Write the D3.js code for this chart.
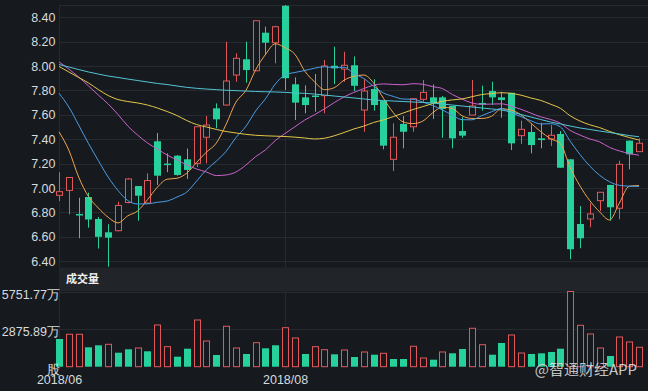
<!DOCTYPE html>
<html><head><meta charset="utf-8">
<script src="https://cdn.jsdelivr.net/npm/d3@7/dist/d3.min.js"></script>
<style>html,body{margin:0;padding:0;background:#161a1f;}svg{display:block;}</style>
</head><body><svg id="c" width="648" height="391"></svg>
<script>
const open  = [6.94,6.98,6.787,6.926,6.746,6.637,6.65,6.881,7.016,6.877,7.383,7.20,7.265,7.235,7.202,7.416,7.653,7.68,7.926,8.055,7.961,8.273,8.191,8.494,7.85,7.743,7.758,7.757,8.002,7.975,8.006,7.639,7.811,7.713,7.235,7.525,7.502,7.727,7.743,7.743,7.672,7.467,7.598,7.697,7.795,7.743,7.781,7.429,7.459,7.407,7.402,7.443,7.235,6.705,6.746,6.896,7.025,6.834,7.388,7.298];
const high  = [7.129,7.09,6.92,6.962,6.762,6.703,6.888,7.082,7.016,7.12,7.451,7.284,7.27,7.324,7.502,7.59,7.694,8.199,8.104,8.199,8.371,8.322,8.33,8.50,7.907,7.842,7.934,8.049,8.158,8.117,8.078,7.891,7.891,7.713,7.53,7.59,7.732,7.885,7.85,7.754,7.672,7.58,7.885,7.839,7.871,7.789,7.781,7.552,7.522,7.535,7.516,7.467,7.235,6.852,6.875,6.965,7.025,7.224,7.388,7.407];
const low   = [6.893,6.784,6.588,6.675,6.504,6.355,6.645,6.874,6.732,6.869,7.025,7.13,7.10,7.074,7.172,7.202,7.489,7.675,7.871,7.863,7.958,8.09,8.022,7.803,7.557,7.612,7.625,7.612,7.852,7.871,7.795,7.461,7.634,7.317,7.139,7.325,7.461,7.707,7.566,7.412,7.325,7.412,7.598,7.634,7.68,7.576,7.311,7.361,7.284,7.325,7.344,7.166,6.416,6.506,6.678,6.811,6.732,6.744,7.153,7.298];
const close = [6.97,7.086,6.779,6.742,6.60,6.593,6.857,7.074,6.937,7.061,7.101,7.193,7.107,7.148,7.502,7.516,7.563,7.877,8.063,7.967,8.371,8.191,8.322,7.90,7.70,7.68,7.754,8.0,7.981,8.006,7.838,7.795,7.68,7.347,7.416,7.461,7.732,7.784,7.694,7.648,7.407,7.429,7.672,7.689,7.743,7.721,7.366,7.481,7.352,7.393,7.432,7.166,6.498,6.588,6.787,6.965,6.842,7.194,7.276,7.367];

const ma5  = [7.46,7.31,7.09,6.93,6.836,6.760,6.714,6.772,6.812,6.904,7.006,7.072,7.080,7.122,7.210,7.294,7.368,7.522,7.704,7.798,7.968,8.094,8.182,8.150,8.096,7.958,7.870,7.806,7.822,7.884,7.916,7.926,7.862,7.736,7.618,7.542,7.528,7.548,7.616,7.662,7.652,7.592,7.570,7.570,7.588,7.650,7.638,7.600,7.532,7.462,7.404,7.364,7.168,7.016,6.896,6.804,6.738,6.876,7.014,7.02];
const ma10 = [7.776,7.664,7.516,7.365,7.225,7.09,6.98,6.897,6.869,6.870,6.883,6.893,6.926,6.967,7.057,7.150,7.220,7.301,7.413,7.504,7.631,7.731,7.852,7.927,7.947,7.963,7.982,7.994,7.986,7.990,7.937,7.898,7.834,7.779,7.751,7.729,7.727,7.705,7.676,7.640,7.597,7.560,7.559,7.593,7.625,7.651,7.615,7.585,7.551,7.525,7.527,7.501,7.384,7.274,7.179,7.104,7.051,7.022,7.015,7.013];
const ma20 = [8.033,7.975,7.91,7.836,7.762,7.689,7.603,7.508,7.434,7.369,7.32,7.27,7.23,7.189,7.156,7.131,7.102,7.107,7.131,7.187,7.257,7.312,7.389,7.447,7.502,7.557,7.601,7.648,7.700,7.747,7.784,7.815,7.843,7.853,7.849,7.846,7.855,7.850,7.831,7.815,7.767,7.729,7.697,7.686,7.688,7.690,7.671,7.645,7.614,7.583,7.562,7.531,7.472,7.434,7.402,7.378,7.333,7.304,7.283,7.269];
const ma30 = [7.996,7.951,7.906,7.861,7.807,7.758,7.725,7.709,7.697,7.68,7.656,7.627,7.594,7.553,7.52,7.50,7.48,7.463,7.451,7.44,7.432,7.428,7.425,7.422,7.417,7.41,7.402,7.408,7.428,7.455,7.484,7.507,7.537,7.558,7.585,7.614,7.643,7.667,7.692,7.711,7.722,7.730,7.748,7.766,7.774,7.781,7.775,7.761,7.738,7.718,7.687,7.653,7.592,7.549,7.518,7.495,7.464,7.437,7.414,7.393];
const ma60 = [8.012,7.992,7.971,7.951,7.934,7.918,7.906,7.893,7.881,7.869,7.857,7.848,7.836,7.825,7.817,7.811,7.806,7.801,7.798,7.795,7.791,7.789,7.787,7.784,7.779,7.776,7.770,7.762,7.754,7.746,7.738,7.730,7.721,7.717,7.713,7.709,7.705,7.701,7.697,7.689,7.680,7.672,7.664,7.656,7.648,7.639,7.623,7.602,7.582,7.561,7.541,7.525,7.508,7.492,7.480,7.467,7.455,7.443,7.430,7.420];

const volume = [2119,2479,2479,1484,1637,1714,1071,1331,1431,1178,3190,1530,765,1377,3573,1966,895,3091,1431,972,1836,1408,1637,2984,2196,972,1530,1300,949,1278,742,1125,918,1025,589,589,1561,666,536,1125,1025,1354,2938,1683,918,1813,2425,1048,972,1025,1125,1377,5751.77,3167,2502,1431,819,2272,1890,1484];
const volumeUp = [0,1,1,0,0,1,0,0,1,0,1,1,0,0,1,1,0,1,1,0,1,0,0,1,1,0,1,1,0,1,0,1,0,1,0,0,1,1,0,1,0,0,1,1,0,0,1,1,0,0,0,0,1,1,1,1,0,1,1,1];

const priceTicks = [8.40,8.20,8.00,7.80,7.60,7.40,7.20,7.00,6.80,6.60,6.40];
const volTicks = [5751.77,2875.89,0];
const volTickLabels = ["5751.77万","2875.89万","股"];
const dateTickIndex = [0,23];
const dateTickLabels = ["2018/06","2018/08"];
const panelTitle = "成交量";
const watermark = "@智通财经APP";

const RED = "#e0585a", GREEN = "#27d19b", BG = "#161a1f", GRID = "#252a31", TXT = "#d8dadc";
const maColors = ["#f0a54e","#4b9de6","#cc62cc","#e5c64a","#52c4d4"];
const maSeries = [ma5, ma10, ma20, ma30, ma60];

const svg = d3.select("#c");
const L = 59, R = 648, PT = 5, PB = 267.3, VT = 291.5, VB = 366.7;
const n = close.length;
const x = d3.scalePoint().domain(d3.range(n)).range([59, 639]);
const y = d3.scaleLinear().domain([6.35, 8.5]).range([PB, PT]);
const yv = d3.scaleLinear().domain([0, 5751.77]).range([VB, VT]);
const font = "'Liberation Sans', Arial, sans-serif";
const cjk = "'Noto Sans CJK SC', 'Noto Sans', sans-serif";

svg.append("rect").attr("width",648).attr("height",391).attr("fill",BG);

// price grid
const g = svg.append("g");
g.append("line").attr("x1",L).attr("x2",R).attr("y1",PT+0.5).attr("y2",PT+0.5).attr("stroke",GRID);
g.selectAll("line.h").data(priceTicks).join("line").attr("class","h")
  .attr("x1",L).attr("x2",R).attr("y1",d=>Math.round(y(d))+0.5).attr("y2",d=>Math.round(y(d))+0.5).attr("stroke",GRID);
dateTickIndex.forEach(i=>{
  const xx = Math.round(x(i))+0.5;
  g.append("line").attr("x1",xx).attr("x2",xx).attr("y1",PT).attr("y2",PB).attr("stroke",GRID);
  g.append("line").attr("x1",xx).attr("x2",xx).attr("y1",VT).attr("y2",VB+3).attr("stroke",GRID);
});
// volume grid
g.selectAll("line.v").data(volTicks.slice(0,2)).join("line").attr("class","v")
  .attr("x1",L).attr("x2",R).attr("y1",d=>Math.round(yv(d))+0.5).attr("y2",d=>Math.round(yv(d))+0.5).attr("stroke",GRID);

// price labels
svg.append("g").selectAll("text").data(priceTicks).join("text")
  .attr("x",55.5).attr("y",d=>y(d)).attr("dy","0.36em").attr("text-anchor","end")
  .attr("font-family",font).attr("font-size",12.5).attr("fill",TXT).text(d=>d.toFixed(2));

// candles
const bw = 6;
const cg = svg.append("g");
d3.range(n).forEach(i=>{
  const up = close[i] > open[i];
  const col = up ? RED : GREEN;
  const cx = Math.round(x(i)) + 0.5;
  const top = y(Math.max(open[i],close[i])), bot = y(Math.min(open[i],close[i]));
  const hi = y(high[i]), lo = y(low[i]);
  if (up) {
    cg.append("line").attr("x1",cx).attr("x2",cx).attr("y1",hi).attr("y2",top).attr("stroke",col);
    cg.append("line").attr("x1",cx).attr("x2",cx).attr("y1",bot).attr("y2",lo).attr("stroke",col);
    cg.append("rect").attr("x",cx-bw/2).attr("y",top).attr("width",bw).attr("height",Math.max(1,bot-top))
      .attr("fill",BG).attr("stroke",col).attr("stroke-width",1);
  } else {
    cg.append("line").attr("x1",cx).attr("x2",cx).attr("y1",hi).attr("y2",lo).attr("stroke",col);
    cg.append("rect").attr("x",cx-bw/2-0.5).attr("y",top).attr("width",bw+1).attr("height",Math.max(1.5,bot-top))
      .attr("fill",col);
  }
});

// moving averages
const line = d3.line().x((d,i)=>x(i)).y(d=>y(d)).curve(d3.curveMonotoneX);
maSeries.forEach((s,k)=>{
  svg.append("path").attr("d",line(s)).attr("fill","none").attr("stroke",maColors[k]).attr("stroke-width",1);
});

// volume panel header
svg.append("rect").attr("x",L).attr("y",267.5).attr("width",R-L).attr("height",24).attr("fill","#212429");
svg.append("text").attr("x",66).attr("y",279.5).attr("dy","0.36em").attr("font-family",cjk)
  .attr("font-size",11).attr("font-weight","bold").attr("fill","#f2f2f2").text(panelTitle);

// volume bars
const vg = svg.append("g");
d3.range(n).forEach(i=>{
  const cx = Math.round(x(i)) + 0.5;
  const t = yv(volume[i]);
  if (volumeUp[i]) {
    vg.append("rect").attr("x",cx-bw/2).attr("y",t).attr("width",bw).attr("height",VB-t)
      .attr("fill",BG).attr("stroke",RED).attr("stroke-width",1);
  } else {
    vg.append("rect").attr("x",cx-bw/2-0.5).attr("y",t).attr("width",bw+1).attr("height",VB-t).attr("fill",GREEN);
  }
});

// volume labels
svg.append("g").selectAll("text").data(volTicks).join("text")
  .attr("x",60).attr("y",d=>yv(d)+2.7).attr("dy","0.36em").attr("text-anchor","end")
  .attr("font-family",font).attr("font-size",12.5).attr("fill",TXT)
  .text((d,i)=>volTickLabels[i]);

// date labels
svg.append("g").selectAll("text").data(dateTickIndex).join("text")
  .attr("x",d=>x(d)+0.5).attr("y",379.5).attr("dy","0.36em").attr("text-anchor","middle")
  .attr("font-family",font).attr("font-size",12.5).attr("fill",TXT)
  .text((d,i)=>dateTickLabels[i]);

// watermark
svg.append("text").attr("x",637).attr("y",370).attr("dy","0.36em").attr("text-anchor","end")
  .attr("font-family",cjk).attr("font-size",15).attr("fill","#ffffff").attr("fill-opacity",0.85)
  .attr("stroke","#000").attr("stroke-opacity",0.25).attr("stroke-width",0.5)
  .text(watermark);
</script></body></html>
